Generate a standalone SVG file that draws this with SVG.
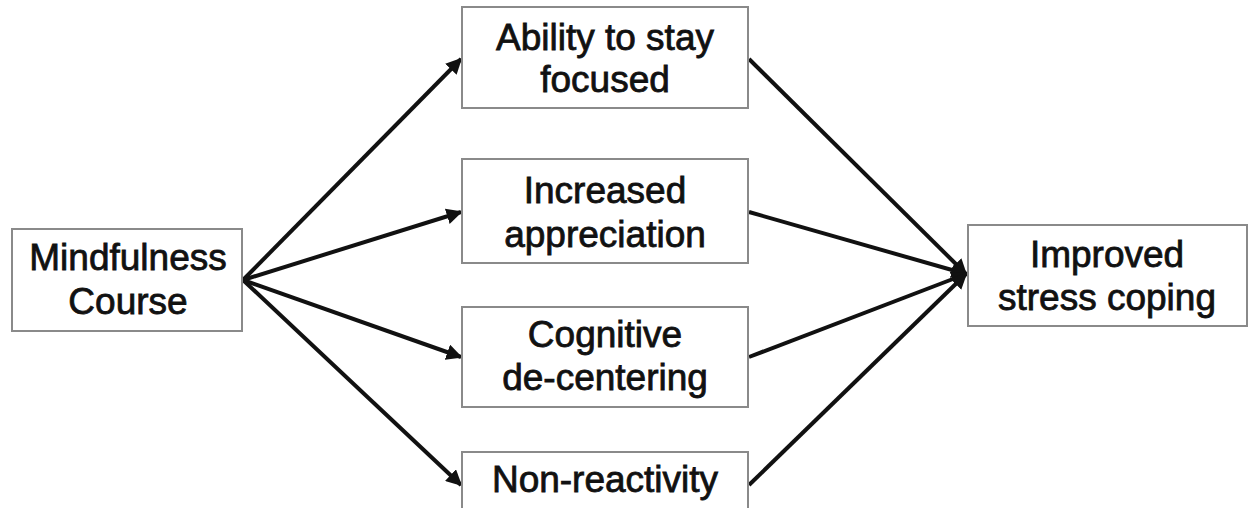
<svg xmlns="http://www.w3.org/2000/svg" width="1249" height="508" viewBox="0 0 1249 508">
  <style>
    .box { fill: #ffffff; stroke: #8a8a8a; stroke-width: 2; }
    .label { font-family: "Liberation Sans", Arial, sans-serif; font-size: 37px; fill: #111111; stroke: #111111; stroke-width: 0.8; text-anchor: middle; }
    .edge { stroke: #111111; stroke-width: 4; fill: none; marker-end: url(#arrow); }
  </style>
  <defs>
    <marker id="arrow" viewBox="0 0 10 10" refX="9" refY="5" markerWidth="4" markerHeight="4" markerUnits="strokeWidth" orient="auto">
      <path d="M0,0 L10,5 L0,10 Z" fill="#111111"/>
    </marker>
  </defs>
  <rect width="1249" height="508" fill="#ffffff"/>

  <g id="connectors">
    <line class="edge" x1="243" y1="280" x2="461" y2="59"/>
    <line class="edge" x1="243" y1="280" x2="461" y2="212"/>
    <line class="edge" x1="243" y1="280" x2="461" y2="357"/>
    <line class="edge" x1="243" y1="280" x2="461" y2="485"/>
    <line class="edge" x1="749" y1="59" x2="966" y2="274"/>
    <line class="edge" x1="749" y1="212" x2="966" y2="274"/>
    <line class="edge" x1="749" y1="357" x2="966" y2="274"/>
    <line class="edge" x1="749" y1="485" x2="966" y2="274"/>
  </g>

  <g id="mindfulness-course">
    <rect class="box" x="12" y="229" width="230" height="102"/>
    <text class="label" x="128" y="270">Mindfulness</text>
    <text class="label" x="128" y="314">Course</text>
  </g>

  <g id="ability-to-stay-focused">
    <rect class="box" x="462" y="7" width="286" height="101"/>
    <text class="label" x="605" y="50">Ability to stay</text>
    <text class="label" x="605" y="92">focused</text>
  </g>

  <g id="increased-appreciation">
    <rect class="box" x="462" y="159" width="286" height="104"/>
    <text class="label" x="605" y="203">Increased</text>
    <text class="label" x="605" y="247">appreciation</text>
  </g>

  <g id="cognitive-de-centering">
    <rect class="box" x="462" y="307" width="286" height="100"/>
    <text class="label" x="605" y="347">Cognitive</text>
    <text class="label" x="605" y="390">de-centering</text>
  </g>

  <g id="non-reactivity">
    <rect class="box" x="462" y="452" width="286" height="60"/>
    <text class="label" x="605" y="492">Non-reactivity</text>
  </g>

  <g id="improved-stress-coping">
    <rect class="box" x="968" y="225" width="279" height="101"/>
    <text class="label" x="1107" y="267">Improved</text>
    <text class="label" x="1107" y="310">stress coping</text>
  </g>
</svg>
